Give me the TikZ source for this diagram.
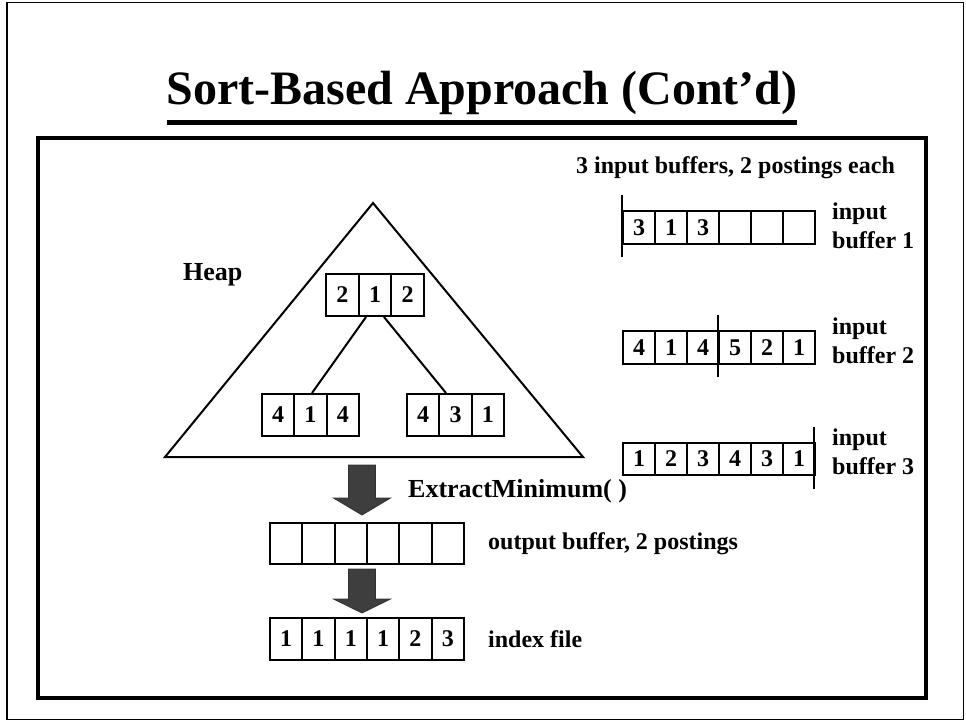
\documentclass[tikz,border=0pt]{standalone}
\usepackage{fontspec}
\setmainfont{Liberation Serif}
\usetikzlibrary{calc}

% one row of equal boxes: name, left x, top y, box width, box height, entries
\newcommand\cellrow[6]{%
  \foreach \v [count=\k] in {#6} {%
    \node[cell, minimum width=#4, minimum height=#5, anchor=north west]
      (#1\k) at ({#2+(\k-1)*#4},#3) {\v};
  }%
}

\begin{document}
\begin{tikzpicture}[x=1pt, y=-1pt,
  cell/.style={draw, line width=2, inner sep=0pt, font=\fontsize{24}{24}\selectfont\bfseries},
  lbl/.style={inner sep=0pt, font=\fontsize{24}{29}\selectfont\bfseries, align=left, anchor=base west},
  biglbl/.style={inner sep=0pt, font=\fontsize{26}{26}\selectfont\bfseries, anchor=base west},
  marker/.style={line width=2},
  edge/.style={line width=2},
  blockarrow/.style={fill={rgb,255:red,62;green,62;blue,62}, draw={rgb,255:red,50;green,50;blue,50}, line width=0.8}
]
\useasboundingbox (0,0) rectangle (966,721);

% page frame and content frame
\draw[line width=1.5] (7,2.5) rectangle (963.5,719.5);
\draw[line width=3.5] (38,138) rectangle (926,698);

% title with its rule
\node[inner sep=0pt, anchor=base, font=\fontsize{48}{48}\selectfont\bfseries] (title) at (482,104) {Sort-Based Approach (Cont’d)};
\draw[line width=5] (167,122) -- (797,122);

% ---- heap ----
\coordinate (apex) at (373,203);
\coordinate (baseL) at (165,457);
\coordinate (baseR) at (583,457);
\draw[line width=2, line join=miter] (apex) -- (baseR) -- (baseL) -- cycle;
\node[biglbl] (heap) at (183,280) {Heap};

\cellrow{t}{325}{273}{32.67}{42}{2,1,2}
\cellrow{l}{261}{393}{32.33}{42}{4,1,4}
\cellrow{r}{406}{393}{32.33}{42}{4,3,1}
\draw[edge] ($(t2.south)+(-9,0)$) -- ($(l2.north)+(1.5,0)$);
\draw[edge] ($(t2.south)+(9,0)$) -- ($(r2.north)+(-9.5,0)$);

% ---- input buffers ----
\node[lbl] (inhdr) at (576,173) {3 input buffers, 2 postings each};

% two-line labels sit on the baseline of their last line
\cellrow{a}{622}{210}{32}{33}{3,1,3,{},{},{}}
\coordinate (a0) at (622,195);
\coordinate (a0b) at (622,257);
\draw[marker] (a0) -- (a0b);
\node[lbl] (alab) at (832,248) {input\\buffer 1};

\cellrow{b}{622}{330}{32}{33}{4,1,4,5,2,1}
\coordinate (b0) at (718,315);
\coordinate (b0b) at (718,377);
\draw[marker] (b0) -- (b0b);
\node[lbl] (blab) at (832,363) {input\\buffer 2};

\cellrow{c}{622}{442}{32}{32}{1,2,3,4,3,1}
\coordinate (c0) at (814,427);
\coordinate (c0b) at (814,489);
\draw[marker] (c0) -- (c0b);
\node[lbl] (clab) at (832,474) {input\\buffer 3};

% ---- output side ----
\cellrow{o}{269}{522}{32.33}{41}{{},{},{},{},{},{}}
\node[lbl] (olab) at (488,549) {output buffer, 2 postings};

\cellrow{x}{269}{617}{32.33}{42}{1,1,1,1,2,3}
\node[lbl] (xlab) at (488,647) {index file};

\node[biglbl] (extract) at (408,497) {ExtractMinimum( )};

% block arrows: heap -> output buffer -> index file
\draw[blockarrow] (348.5,465) -- (375.5,465) -- (375.5,498) -- (390.5,498) -- (362,515)
  -- (333.5,498) -- (348.5,498) -- cycle;
\draw[blockarrow] (348.5,569) -- (375.5,569) -- (375.5,599) -- (390.5,599) -- (362,613)
  -- (333.5,599) -- (348.5,599) -- cycle;
\end{tikzpicture}
\end{document}
